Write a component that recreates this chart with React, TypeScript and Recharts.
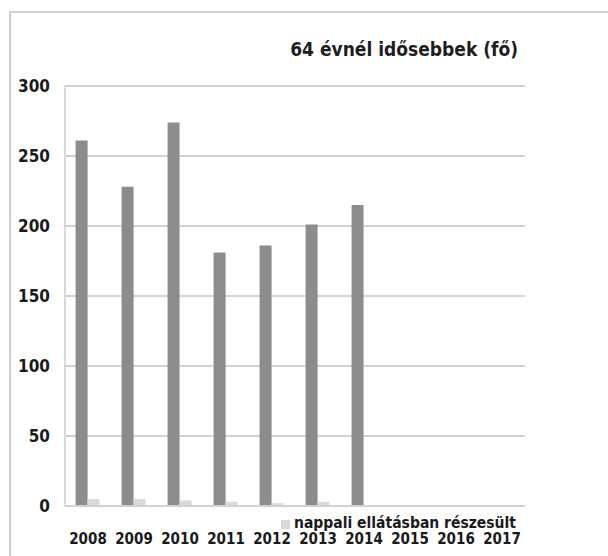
import { BarChart, Bar, XAxis, YAxis, CartesianGrid, Legend } from 'recharts';

const years = ['2008', '2009', '2010', '2011', '2012', '2013', '2014', '2015', '2016', '2017'];
const total = [261, 228, 274, 181, 186, 201, 215, null, null, null];
const daycare = [5, 5, 4, 3, 2, 3, 0, null, null, null];
const yTicks = [0, 50, 100, 150, 200, 250, 300];

const data = years.map((year, i) => ({ year, total: total[i], daycare: daycare[i] }));

const font = "'Liberation Sans Narrow', 'DejaVu Sans Condensed', 'Arial Narrow', sans-serif";

export default function App() {
  return (
    <div style={{ position: 'absolute', left: 0, top: 0, width: 608, height: 556, background: '#fff' }}>
      <div
        style={{
          position: 'absolute',
          left: 9,
          top: 11,
          width: 600,
          height: 545,
          borderTop: '2px solid #cfcfcf',
          borderLeft: '2px solid #cfcfcf',
        }}
      />
      <div
        style={{
          position: 'absolute',
          top: 38,
          right: 90,
          fontFamily: font,
          fontWeight: 'bold',
          fontSize: 19,
          color: '#1e1e1e',
          whiteSpace: 'nowrap',
        }}
      >
        64 évnél idősebbek (fő)
      </div>
      <BarChart
        width={608}
        height={556}
        data={data}
        margin={{ top: 86, right: 83, bottom: 20, left: 0 }}
        barCategoryGap="23%"
        barGap={0}
      >
        <CartesianGrid vertical={false} stroke="#d2d2d2" strokeWidth={2} />
        <XAxis
          dataKey="year"
          height={30}
          axisLine={{ stroke: '#d2d2d2', strokeWidth: 2 }}
          tickLine={false}
          tickSize={0}
          tickMargin={27}
          interval={0}
          tick={{ fontFamily: font, fontWeight: 'bold', fontSize: 15, fill: '#1a1a1a' }}
        />
        <YAxis
          width={65}
          domain={[0, 300]}
          ticks={yTicks}
          axisLine={{ stroke: '#d8d8d8', strokeWidth: 2 }}
          tickLine={false}
          tickSize={0}
          tickMargin={15}
          tick={{ fontFamily: font, fontWeight: 'bold', fontSize: 17, fill: '#1a1a1a' }}
        />
        <Legend
          layout="vertical"
          align="center"
          verticalAlign="middle"
          iconType="square"
          iconSize={9}
          wrapperStyle={{ left: 281, top: 514, width: 'auto', height: 0, overflow: 'visible', whiteSpace: 'nowrap' }}
          formatter={(value) => (
            <span style={{ fontFamily: font, fontWeight: 'bold', fontSize: 15.5, color: '#1a1a1a' }}>{value}</span>
          )}
        />
        <Bar dataKey="total" fill="#8c8c8c" legendType="none" isAnimationActive={false} />
        <Bar dataKey="daycare" name="nappali ellátásban részesült" fill="#d9d9d9" isAnimationActive={false} />
      </BarChart>
    </div>
  );
}
